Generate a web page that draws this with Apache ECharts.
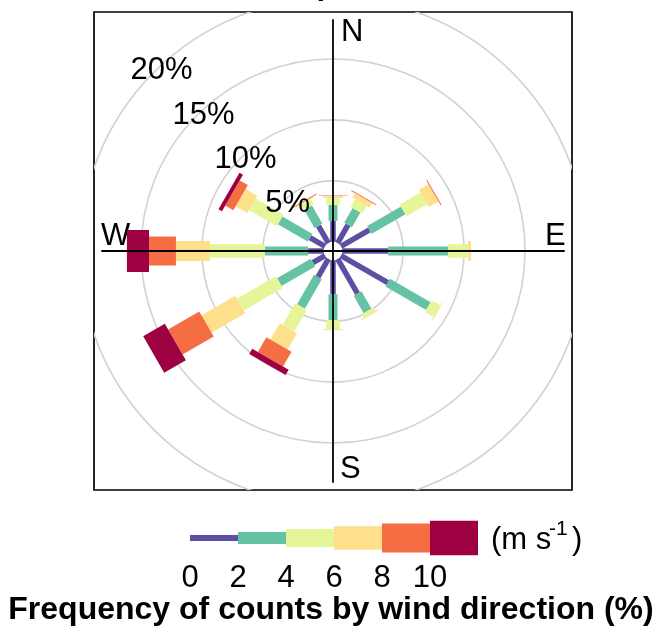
<!DOCTYPE html>
<html>
<head>
<meta charset="utf-8">
<script src="https://cdn.jsdelivr.net/npm/echarts@6/dist/echarts.min.js"></script>
<style>
html,body{margin:0;padding:0;background:#fff;}
#chart{width:662px;height:632px;}
</style>
</head>
<body>
<div id="chart"></div>
<script>
// ---- data ----
const directions = [0, 30, 60, 90, 120, 150, 180, 210, 240, 270, 300, 330];
const speedBins = ['0 - 2', '2 - 4', '4 - 6', '6 - 8', '8 - 10', '10+'];
const legendLabels = ['0', '2', '4', '6', '8', '10'];
const ringValues = [5, 10, 15, 20];
const ringLabels = ['5%', '10%', '15%', '20%'];
const compassLabels = ['N', 'E', 'S', 'W'];
const titleText = 'Emission period';
const xLabel = 'Frequency of counts by wind direction (%)';
// frequency (%) per direction, one array per speed bin
const freq0to2  = [1.72, 1.72, 2.70, 3.77, 4.43, 3.28, 2.79, 1.72, 1.15, 1.29, 1.44, 1.64];
const freq2to4  = [1.31, 1.39, 3.20, 4.92, 3.85, 1.64, 2.13, 2.79, 3.19, 3.55, 2.82, 1.72];
const freq4to6  = [0.58, 0.74, 1.97, 1.64, 0.82, 0.33, 0.74, 2.05, 3.69, 4.50, 2.63, 0.49];
const freq6to8  = [0.16, 0.41, 0.90, 0.24, 0.08, 0.08, 0.08, 1.55, 3.20, 2.79, 1.11, 0.08];
const freq8to10 = [0.04, 0.08, 0.08, 0.00, 0.00, 0.00, 0.00, 1.40, 2.95, 2.21, 0.77, 0.09];
const freq10up  = [0.00, 0.00, 0.00, 0.00, 0.00, 0.00, 0.00, 0.49, 2.05, 1.81, 0.33, 0.00];

// ---- styles ----
const binSeries = [freq0to2, freq2to4, freq4to6, freq6to8, freq8to10, freq10up];
const colors = ['#5E4FA2', '#66C2A5', '#E6F598', '#FEE08B', '#F46D43', '#9E0142'];
const paddleWidths = [5.5, 9, 13.5, 20, 29, 42];
const legendHeights = [6, 12, 18, 23.5, 29, 34.5];
const OFFSET = 0.75;      // centre hole (in % units)
const EXTENT = 19.6;
const LINE_EXT = 19.0;
const FONT = '"Liberation Sans", Arial, Helvetica, sans-serif';

// build paddle items: [direction, start, end, bin]
const paddleData = [];
directions.forEach((d, i) => {
  let cum = 0;
  binSeries.forEach((arr, b) => {
    const v = arr[i];
    if (v > 0) paddleData.push([d, cum, cum + v, b]);
    cum += v;
  });
});

const chart = echarts.init(document.getElementById('chart'), null, {renderer: 'canvas'});

function polarPt(api, r, deg) {
  const t = deg * Math.PI / 180;
  return api.coord([r * Math.sin(t), r * Math.cos(t)]);
}

const legendX0 = 190, legendStep = 48, legendCY = 538;
const graphics = [];
speedBins.forEach((s, i) => {
  graphics.push({
    type: 'rect',
    shape: {x: legendX0 + i * legendStep, y: legendCY - legendHeights[i] / 2, width: legendStep, height: legendHeights[i]},
    style: {fill: colors[i]}
  });
  graphics.push({
    type: 'text', x: legendX0 + i * legendStep, y: 578,
    style: {text: legendLabels[i], font: '31px ' + FONT, fill: '#000', textAlign: 'center', textVerticalAlign: 'middle'}
  });
});
graphics.push({type: 'text', x: 491, y: 540, style: {text: '(m s', font: '31px ' + FONT, fill: '#000', textAlign: 'left', textVerticalAlign: 'middle'}});
graphics.push({type: 'text', x: 549, y: 529, style: {text: '-1', font: '21px ' + FONT, fill: '#000', textAlign: 'left', textVerticalAlign: 'middle'}});
graphics.push({type: 'text', x: 572, y: 540, style: {text: ')', font: '31px ' + FONT, fill: '#000', textAlign: 'left', textVerticalAlign: 'middle'}});
graphics.push({type: 'text', x: 331, y: 626, style: {text: xLabel, font: 'bold 32px ' + FONT, fill: '#000', textAlign: 'center', textVerticalAlign: 'bottom'}});
graphics.push({type: 'text', x: 170, y: 1, style: {text: titleText, font: 'bold 31px ' + FONT, fill: '#000', textAlign: 'left', textVerticalAlign: 'bottom'}});
// compass labels
graphics.push({type: 'text', x: 341, y: 32, style: {text: compassLabels[0], font: '31px ' + FONT, fill: '#000', textAlign: 'left', textVerticalAlign: 'middle'}});
graphics.push({type: 'text', x: 545, y: 236, style: {text: compassLabels[1], font: '31px ' + FONT, fill: '#000', textAlign: 'left', textVerticalAlign: 'middle'}});
graphics.push({type: 'text', x: 340, y: 469, style: {text: compassLabels[2], font: '31px ' + FONT, fill: '#000', textAlign: 'left', textVerticalAlign: 'middle'}});
graphics.push({type: 'text', x: 101, y: 236, style: {text: compassLabels[3], font: '31px ' + FONT, fill: '#000', textAlign: 'left', textVerticalAlign: 'middle'}});

const option = {
  animation: false,
  backgroundColor: '#fff',
  grid: {left: 94, top: 12, width: 478, height: 478, show: true, borderColor: '#000', borderWidth: 1.7, backgroundColor: 'transparent'},
  xAxis: {type: 'value', min: -EXTENT, max: EXTENT, show: false},
  yAxis: {type: 'value', min: -EXTENT, max: EXTENT, show: false},
  graphic: graphics,
  series: [
    {
      type: 'custom', name: 'rings', clip: true,
      data: ringValues.map(v => [v]),
      renderItem: (params, api) => {
        const v = api.value(0);
        const c = api.coord([0, 0]);
        const e = api.coord([OFFSET + v, 0]);
        return {type: 'circle', shape: {cx: c[0], cy: c[1], r: e[0] - c[0]},
          style: {fill: 'none', stroke: '#d2d2d2', lineWidth: 1.6}};
      }
    },
    {
      type: 'line', name: 'ew', data: [[-LINE_EXT, 0], [LINE_EXT, 0]], symbol: 'none',
      lineStyle: {color: '#000', width: 1.8}, silent: true
    },
    {
      type: 'line', name: 'ns', data: [[0, -LINE_EXT], [0, LINE_EXT]], symbol: 'none',
      lineStyle: {color: '#000', width: 1.8}, silent: true
    },
    {
      type: 'custom', name: 'paddles',
      data: paddleData,
      renderItem: (params, api) => {
        const d = api.value(0), s = api.value(1), e = api.value(2), b = api.value(3);
        const p1 = polarPt(api, OFFSET + s, d);
        const p2 = polarPt(api, OFFSET + e, d);
        const t = d * Math.PI / 180;
        const hw = paddleWidths[b] / 2;
        const px = Math.cos(t) * hw, py = Math.sin(t) * hw;
        return {type: 'polygon', shape: {points: [
          [p1[0] + px, p1[1] + py], [p2[0] + px, p2[1] + py],
          [p2[0] - px, p2[1] - py], [p1[0] - px, p1[1] - py]]},
          style: {fill: colors[b]}};
      }
    },
    {
      type: 'custom', name: 'ringLabels',
      data: ringValues.map((v, i) => [v, i]),
      renderItem: (params, api) => {
        const v = api.value(0), i = api.value(1);
        const p = polarPt(api, OFFSET + v - 0.35, -43.6);
        return {type: 'text', x: p[0], y: p[1],
          style: {text: ringLabels[i], font: '31px ' + FONT, fill: '#000', textAlign: 'center', textVerticalAlign: 'middle'}};
      }
    }
  ]
};
chart.setOption(option);
</script>
</body>
</html>
